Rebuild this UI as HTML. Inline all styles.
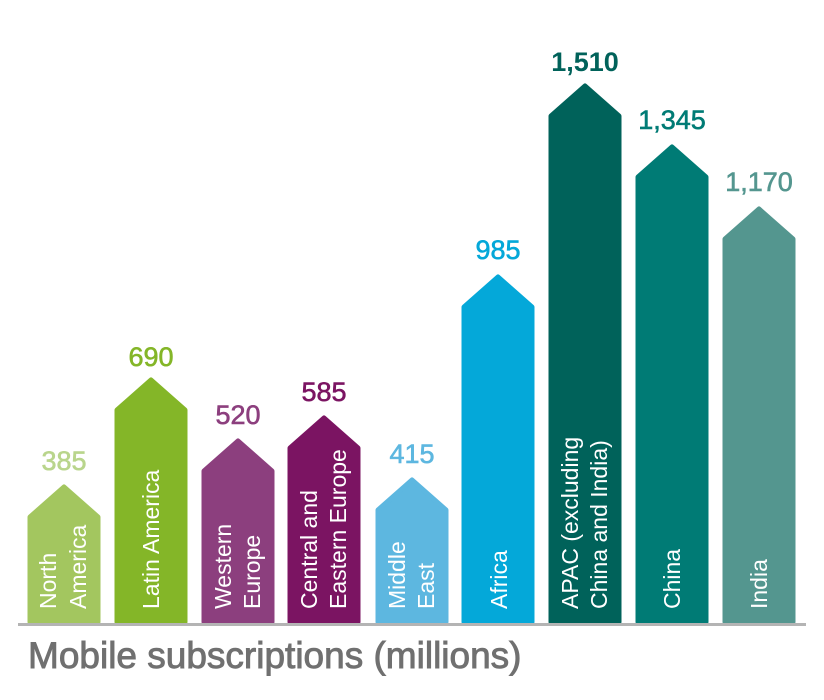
<!DOCTYPE html>
<html><head><meta charset="utf-8"><style>
body{margin:0;background:#fff}
svg{display:block}
text{font-family:"Liberation Sans",sans-serif}
</style></head><body>
<svg width="824" height="700" viewBox="0 0 824 700">
<g stroke-linejoin="round" stroke-width="5">
<path d="M30,622 L30,517 L64,487 L98,517 L98,622Z" fill="#a3c65f" stroke="#a3c65f"/>
<path d="M117,622 L117,410 L151,380 L185,410 L185,622Z" fill="#84b628" stroke="#84b628"/>
<path d="M204,622 L204,471 L238,441 L272,471 L272,622Z" fill="#8c3f7e" stroke="#8c3f7e"/>
<path d="M290,622 L290,448 L324,418 L358,448 L358,622Z" fill="#7b1462" stroke="#7b1462"/>
<path d="M378,622 L378,510 L412,480 L446,510 L446,622Z" fill="#5db7e0" stroke="#5db7e0"/>
<path d="M464,622 L464,307 L498,277 L532,307 L532,622Z" fill="#04a8d9" stroke="#04a8d9"/>
<path d="M551,622 L551,116 L585,86 L619,116 L619,622Z" fill="#00625a" stroke="#00625a"/>
<path d="M638,622 L638,177 L672,147 L706,177 L706,622Z" fill="#007b75" stroke="#007b75"/>
<path d="M725,622 L725,239 L759,209 L793,239 L793,622Z" fill="#54968f" stroke="#54968f"/>
</g>
<line x1="18" y1="624.5" x2="806" y2="624.5" stroke="#b4b4b4" stroke-width="3"/>
<g font-size="27" text-anchor="middle" stroke-width="0.6">
<text x="64" y="470" fill="#b9d58c" stroke="#b9d58c">385</text>
<text x="151" y="366" fill="#84b628" stroke="#84b628">690</text>
<text x="238" y="424" fill="#8c3f7e" stroke="#8c3f7e">520</text>
<text x="324" y="401" fill="#7b1462" stroke="#7b1462">585</text>
<text x="412" y="463" fill="#5db7e0" stroke="#5db7e0">415</text>
<text x="498" y="259" fill="#04a8d9" stroke="#04a8d9">985</text>
<text x="585" y="71" fill="#00625a" font-weight="bold">1,510</text>
<text x="672" y="129" fill="#007b75" stroke="#007b75">1,345</text>
<text x="759" y="191" fill="#54968f" stroke="#54968f">1,170</text>
</g>
<g font-size="23" fill="#fff">
<text transform="translate(56,609) rotate(-90)">North</text>
<text transform="translate(86,609) rotate(-90)">America</text>
<text transform="translate(159,609) rotate(-90)">Latin America</text>
<text transform="translate(231,609) rotate(-90)">Western</text>
<text transform="translate(260,609) rotate(-90)">Europe</text>
<text transform="translate(317,609) rotate(-90)">Central and</text>
<text transform="translate(346,609) rotate(-90)">Eastern Europe</text>
<text transform="translate(405,609) rotate(-90)">Middle</text>
<text transform="translate(434,609) rotate(-90)">East</text>
<text transform="translate(507,609) rotate(-90)">Africa</text>
<text transform="translate(578,609) rotate(-90)">APAC (excluding</text>
<text transform="translate(607,609) rotate(-90)">China and India)</text>
<text transform="translate(680,609) rotate(-90)">China</text>
<text transform="translate(767,609) rotate(-90)">India</text>
</g>
<text x="28" y="668" font-size="37" fill="#707070" stroke="#707070" stroke-width="0.9">Mobile subscriptions (millions)</text>
</svg>
</body></html>
